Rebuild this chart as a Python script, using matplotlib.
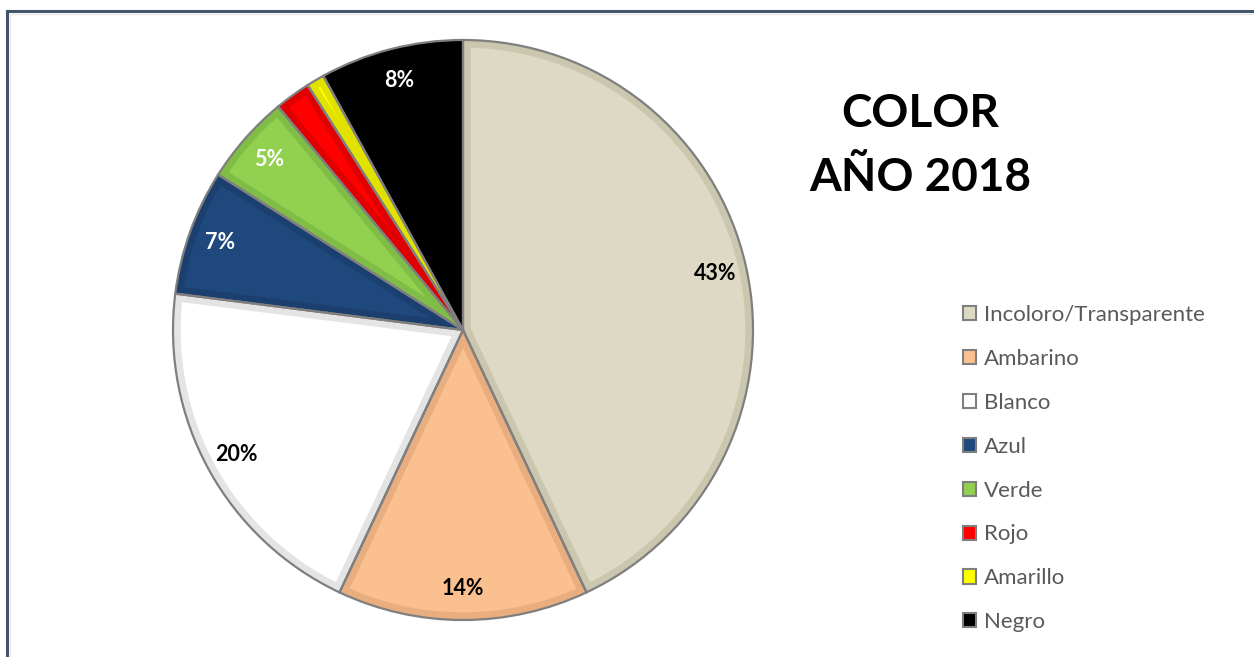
import matplotlib.pyplot as plt
import matplotlib.patches as mpatches
from matplotlib.lines import Line2D

# colour shares, 2018
labels = ["Incoloro/Transparente", "Ambarino", "Blanco", "Azul",
          "Verde", "Rojo", "Amarillo", "Negro"]
shares = [43, 14, 20, 7, 5, 2, 1, 8]
faces = ["#DDD9C4", "#FAC090", "#FFFFFF", "#1F497D",
         "#92D050", "#FF0000", "#FFFF00", "#000000"]
bevels = ["#CBC6AE", "#E9AE80", "#E4E4E4", "#1B406F",
          "#7FBD46", "#E00000", "#E2E200", "#000000"]
pct_colors = ["black", "black", "black", "white",
              "white", "white", "white", "white"]

W, H, DPI = 1254, 657, 100
fig = plt.figure(figsize=(W / DPI, H / DPI), dpi=DPI)

# pie axes: centre (463, 330) px, radius 290 px
cx, cy, r = 463, 330, 290
L = 1.03
half = r * L
ax = fig.add_axes([(cx - half) / W, (H - cy - half) / H, 2 * half / W, 2 * half / H])

wedges, _, autotexts = ax.pie(
    shares, colors=faces, startangle=90, counterclock=False, radius=1,
    autopct=lambda p: f"{p:.0f}%" if p >= 3 else "", pctdistance=0.89,
    wedgeprops=dict(edgecolor="none"),
    textprops=dict(fontsize=15.5, fontweight="bold", family="Lato"))
# pie() sets its own limits, so override afterwards
ax.set_xlim(-L, L)
ax.set_ylim(-L, L)
ax.set_aspect("equal")
ax.axis("off")

for w, dark, tc, t in zip(wedges, bevels, pct_colors, autotexts):
    # darker inner band along each slice edge
    band = mpatches.Wedge(w.center, w.r, w.theta1, w.theta2, facecolor="none",
                          edgecolor=dark, lw=11, zorder=2)
    ax.add_patch(band)
    band.set_clip_path(w)
    outline = mpatches.Wedge(w.center, w.r, w.theta1, w.theta2, facecolor="none",
                             edgecolor="#7F7F7F", lw=1.6, zorder=3)
    ax.add_patch(outline)
    t.set_color(tc)
    t.set_zorder(5)

# title
fig.text(920 / W, 1 - 114 / H, "COLOR", ha="center", va="center",
         fontsize=33, fontweight="bold", family="Lato")
fig.text(920 / W, 1 - 178 / H, "AÑO 2018", ha="center", va="center",
         fontsize=33, fontweight="bold", family="Lato")

# legend
handles = [mpatches.Patch(facecolor=f, edgecolor="#7F7F7F", lw=1.5) for f in faces]
leg = fig.legend(handles, labels, loc="upper left",
                 bbox_to_anchor=(963 / W, 1 - 305 / H), frameon=False,
                 prop=dict(family="Lato", size=16), labelcolor="#595959",
                 handlelength=0.6, handleheight=0.6, handletextpad=0.35,
                 labelspacing=1.075, borderpad=0, borderaxespad=0)

# outer frame (top and left edges)
fig.add_artist(Line2D([7 / W, 1], [1 - 11 / H, 1 - 11 / H], color="#44546A", lw=2.2))
fig.add_artist(Line2D([7 / W, 7 / W], [0, 1 - 11 / H], color="#44546A", lw=2.2))
fig.add_artist(Line2D([9.5 / W, 1], [1 - 13.5 / H, 1 - 13.5 / H], color="#E6E6E6", lw=0.8))
fig.add_artist(Line2D([9.5 / W, 9.5 / W], [0, 1 - 13.5 / H], color="#E6E6E6", lw=0.8))

fig.savefig("out.png", dpi=DPI, facecolor="white")
